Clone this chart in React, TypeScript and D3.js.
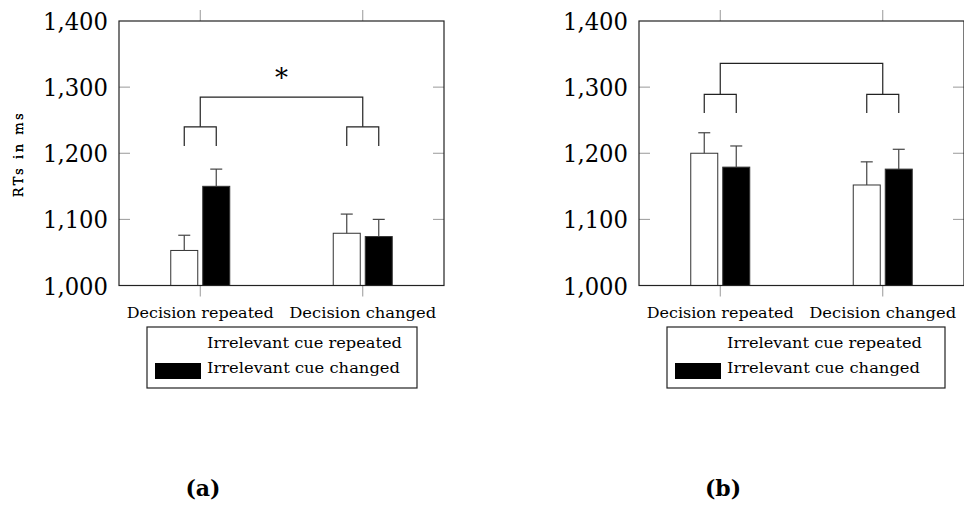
import React, { useEffect, useRef } from 'react';
import * as d3 from 'd3';

const categories = ['Decision repeated', 'Decision changed'];
const seriesNames = ['Irrelevant cue repeated', 'Irrelevant cue changed'];
const yTicks = [1000, 1100, 1200, 1300, 1400];

// panel (a)
const aRepeated = [1053, 1079];
const aChanged = [1150, 1074];
const aRepeatedErr = [23, 29];
const aChangedErr = [26, 26];
const aBracket = [1211, 1240, 1285]; // leg end, inner bar, outer bar

// panel (b)
const bRepeated = [1200, 1152];
const bChanged = [1179, 1176];
const bRepeatedErr = [31, 35];
const bChangedErr = [32, 30];
const bBracket = [1261, 1289, 1336];

const FONT = "'DejaVu Serif', serif";

const App = () => {
  const svgRef = useRef(null);

  useEffect(() => {
    const svg = d3.select(svgRef.current);
    svg.selectAll('*').remove();

    const width = 325;
    const height = 264.5;

    const panels = [
      { x0: 119, tag: '(a)', rep: aRepeated, chg: aChanged, repErr: aRepeatedErr, chgErr: aChangedErr, br: aBracket, star: true, legendW: 270 },
      { x0: 639, tag: '(b)', rep: bRepeated, chg: bChanged, repErr: bRepeatedErr, chgErr: bChangedErr, br: bBracket, star: false, legendW: 278 },
    ];

    panels.forEach((p) => {
      const g = svg.append('g').attr('transform', `translate(${p.x0}, 21)`);

      const x = d3.scaleBand().domain(categories).range([0, width]);
      const sub = d3.scaleBand().domain(seriesNames).range([-29.5, 29.5]).paddingInner(5 / 32);
      const y = d3.scaleLinear().domain([1000, 1400]).range([height, 0]);
      const cx = (c) => x(c) + x.bandwidth() / 2;

      // y ticks, inside on both sides
      yTicks.slice(1, 4).forEach((t) => {
        g.append('line').attr('x1', 0).attr('x2', 11).attr('y1', y(t)).attr('y2', y(t)).attr('stroke', '#999').attr('stroke-width', 1);
        g.append('line').attr('x1', width - 11).attr('x2', width).attr('y1', y(t)).attr('y2', y(t)).attr('stroke', '#999').attr('stroke-width', 1);
      });
      // x ticks, outside top and bottom
      categories.forEach((c) => {
        g.append('line').attr('x1', cx(c)).attr('x2', cx(c)).attr('y1', -11).attr('y2', 0).attr('stroke', '#999');
        g.append('line').attr('x1', cx(c)).attr('x2', cx(c)).attr('y1', height).attr('y2', height + 11).attr('stroke', '#999');
      });

      // y tick labels
      yTicks.forEach((t) => {
        g.append('text')
          .attr('x', -11)
          .attr('y', y(t) + 9)
          .attr('text-anchor', 'end')
          .attr('textLength', 65)
          .attr('lengthAdjust', 'spacingAndGlyphs')
          .style('font-family', FONT)
          .style('font-size', '25px')
          .text(d3.format(',')(t));
      });

      // y axis label
      g.append('text')
        .attr('transform', `translate(${-p.x0 + 23}, ${height / 2 + 2}) rotate(-90)`)
        .attr('text-anchor', 'middle')
        .attr('textLength', 84)
        .attr('lengthAdjust', 'spacing')
        .style('font-family', FONT)
        .style('font-size', '13px')
        .text('RTs in ms');

      // category labels
      categories.forEach((c) => {
        g.append('text')
          .attr('x', cx(c))
          .attr('y', 297)
          .attr('text-anchor', 'middle')
          .attr('textLength', 147)
          .attr('lengthAdjust', 'spacingAndGlyphs')
          .style('font-family', FONT)
          .style('font-size', '14px')
          .text(c);
      });

      // bars
      const series = [
        { name: seriesNames[0], vals: p.rep, err: p.repErr, fill: '#fff' },
        { name: seriesNames[1], vals: p.chg, err: p.chgErr, fill: '#000' },
      ];
      series.forEach((s) => {
        categories.forEach((c, i) => {
          const bx = cx(c) + sub(s.name);
          const mid = bx + sub.bandwidth() / 2;
          g.append('rect')
            .attr('x', bx)
            .attr('y', y(s.vals[i]))
            .attr('width', sub.bandwidth())
            .attr('height', height - y(s.vals[i]))
            .attr('fill', s.fill)
            .attr('stroke', '#333')
            .attr('stroke-width', 1);
          const top = y(s.vals[i] + s.err[i]);
          g.append('line').attr('x1', mid).attr('x2', mid).attr('y1', y(s.vals[i])).attr('y2', top).attr('stroke', '#444').attr('stroke-width', 1.2);
          g.append('line').attr('x1', mid - 6).attr('x2', mid + 6).attr('y1', top).attr('y2', top).attr('stroke', '#444').attr('stroke-width', 1.2);
        });
      });

      // frame
      g.append('rect').attr('width', width).attr('height', height).attr('fill', 'none').attr('stroke', '#222').attr('stroke-width', 1.2);

      // brackets
      const [legEnd, inner, outer] = p.br;
      const line = d3.line();
      categories.forEach((c) => {
        const l = cx(c) + sub(seriesNames[0]) + sub.bandwidth() / 2;
        const r = cx(c) + sub(seriesNames[1]) + sub.bandwidth() / 2;
        g.append('path')
          .attr('d', line([[l, y(legEnd)], [l, y(inner)], [r, y(inner)], [r, y(legEnd)]]))
          .attr('fill', 'none').attr('stroke', '#222').attr('stroke-width', 1.2);
      });
      const c0 = cx(categories[0]);
      const c1 = cx(categories[1]);
      g.append('path')
        .attr('d', line([[c0, y(inner)], [c0, y(outer)], [c1, y(outer)], [c1, y(inner)]]))
        .attr('fill', 'none').attr('stroke', '#222').attr('stroke-width', 1.2);
      if (p.star) {
        g.append('text')
          .attr('x', (c0 + c1) / 2)
          .attr('y', y(outer) - 10)
          .attr('text-anchor', 'middle')
          .style('font-family', FONT)
          .style('font-size', '26px')
          .text('*');
      }

      // legend
      const lg = g.append('g').attr('transform', `translate(28, 306)`);
      lg.append('rect').attr('width', p.legendW).attr('height', 61).attr('fill', '#fff').attr('stroke', '#222').attr('stroke-width', 1.2);
      seriesNames.forEach((n, i) => {
        lg.append('rect').attr('x', 8).attr('y', 11 + i * 25).attr('width', 46).attr('height', 16).attr('fill', i === 0 ? '#fff' : '#000');
        lg.append('text')
          .attr('x', 60)
          .attr('y', 21 + i * 25)
          .attr('textLength', n.length > 22 ? 195 : 193)
          .attr('lengthAdjust', 'spacingAndGlyphs')
          .style('font-family', FONT)
          .style('font-size', '14px')
          .text(n);
      });

      // subcaption
      svg.append('text')
        .attr('x', p.x0 + 84)
        .attr('y', 496)
        .attr('text-anchor', 'middle')
        .style('font-family', FONT)
        .style('font-size', '22px')
        .style('font-weight', 'bold')
        .text(p.tag);
    });
  }, []);

  return (
    <svg ref={svgRef} width={964} height={505} style={{ position: 'absolute', left: 0, top: 0, background: '#fff' }}></svg>
  );
};

export default App;
